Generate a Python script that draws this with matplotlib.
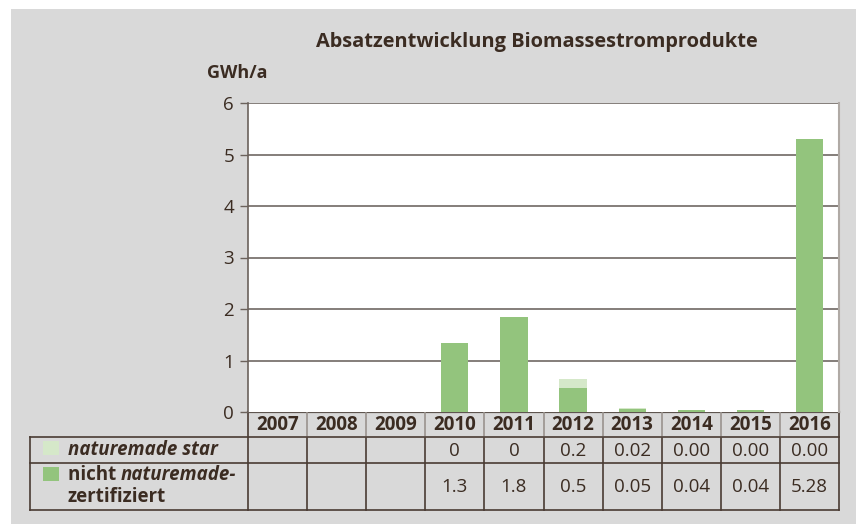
import matplotlib
matplotlib.use("Agg")
import matplotlib.pyplot as plt
from matplotlib.patches import Rectangle
from matplotlib.lines import Line2D

years = ["2007", "2008", "2009", "2010", "2011", "2012", "2013", "2014", "2015", "2016"]
nicht = [0, 0, 0, 1.34, 1.85, 0.47, 0.05, 0.04, 0.04, 5.30]
star = [0, 0, 0, 0, 0, 0.17, 0.02, 0.0, 0.0, 0.0]
star_labels = ["", "", "", "0", "0", "0.2", "0.02", "0.00", "0.00", "0.00"]
nicht_labels = ["", "", "", "1.3", "1.8", "0.5", "0.05", "0.04", "0.04", "5.28"]
yticks = [0, 1, 2, 3, 4, 5, 6]

W, H = 856, 524
TXT = "#3b2c22"
DARK = "#93c47d"
LIGHT = "#d5e8c9"
BG = "#d9d9d9"
FS = 13.5
plt.rcParams['font.family'] = ['Open Sans', 'DejaVu Sans']

fig = plt.figure(figsize=(W/100, H/100), dpi=100)
fig.patch.set_facecolor("white")

def fx(px): return px / W
def fy(py): return 1 - py / H

# grey background
fig.patches.append(Rectangle((fx(11), 0), 1 - fx(11), fy(9), transform=fig.transFigure,
                             facecolor=BG, edgecolor="none", zorder=-10))

L, R, T, B = 248, 839, 103, 412
ax = fig.add_axes([fx(L), fy(B), fx(R) - fx(L), fy(T) - fy(B)], zorder=2)
ax.set_facecolor("white")
x = list(range(len(years)))
ax.bar(x, nicht, width=0.46, color=DARK, zorder=3)
ax.bar(x, star, bottom=nicht, width=0.46, color=LIGHT, zorder=3)
ax.set_xlim(-0.5, len(years) - 0.5)
ax.set_ylim(0, 6)
ax.set_yticks(yticks)
ax.set_yticklabels([str(v) for v in yticks], fontsize=13.5, color=TXT)
ax.tick_params(axis='y', length=6, width=1, color="#6b625c", pad=4)
ax.set_xticks([])
for v in yticks[1:]:
    ax.axhline(v, color="#6f6863", lw=1.2, zorder=1)
for s in ["top", "bottom"]:
    ax.spines[s].set_visible(False)
ax.spines["left"].set_color("#6b625c")
ax.spines["left"].set_linewidth(1.2)
ax.spines["right"].set_color("#b0aaa5")
ax.spines["right"].set_linewidth(1.5)

fig.text(fx(537), fy(42), "Absatzentwicklung Biomassestromprodukte", ha="center", va="center",
         fontsize=14.4, fontweight="bold", color=TXT)
fig.text(fx(207), fy(73), "GWh/a", ha="left", va="center", fontsize=13,
         fontweight="bold", color=TXT)

# table
colw = (R - L) / len(years)
r0, r1, r2, r3 = 412, 437, 463, 510
LX = 30
def hline(y, x0, x1, c, lw):
    fig.add_artist(Line2D([fx(x0), fx(x1)], [fy(y), fy(y)], color=c, lw=lw, transform=fig.transFigure))
def vline(xp, y0, y1, c, lw):
    fig.add_artist(Line2D([fx(xp), fx(xp)], [fy(y0), fy(y1)], color=c, lw=lw, transform=fig.transFigure))

LC = "#4a3b33"
hline(r0, L, R, "#5e554f", 1.6)
hline(r1, LX, R, LC, 1.2)
hline(r2, LX, R, LC, 1.2)
hline(r3, LX, R, LC, 1.2)
vline(LX, r1, r3, LC, 1.2)
vline(L, r0, r3, LC, 1.2)
vline(R, r0, r3, LC, 1.2)
for i in range(1, len(years)):
    xp = L + i * colw
    vline(xp, r0, r1, "#9a938e", 1.2)
    vline(xp, r1, r3, LC, 1.2)

for i, yr in enumerate(years):
    cx = L + (i + 0.5) * colw
    fig.text(fx(cx), fy((r0 + r1) / 2 + 1), yr, ha="center", va="center",
             fontsize=FS, fontweight="bold", color=TXT)
    fig.text(fx(cx), fy((r1 + r2) / 2 + 1), star_labels[i], ha="center", va="center",
             fontsize=FS, color=TXT)
    fig.text(fx(cx), fy((r2 + r3) / 2 + 1), nicht_labels[i], ha="center", va="center",
             fontsize=FS, color=TXT)

# legend squares and labels
fig.patches.append(Rectangle((fx(43), fy(455)), fx(16), fy(441) - fy(455), transform=fig.transFigure,
                             facecolor=LIGHT, edgecolor="none"))
fig.patches.append(Rectangle((fx(43), fy(481)), fx(16), fy(467) - fy(481), transform=fig.transFigure,
                             facecolor=DARK, edgecolor="none"))
fig.text(fx(68), fy(450), "naturemade star", ha="left", va="center", fontsize=FS,
         fontweight="bold", fontstyle="italic", color=TXT)
t1 = fig.text(fx(68), fy(475), "nicht ", ha="left", va="center", fontsize=FS,
              fontweight="bold", color=TXT)
fig.canvas.draw()
bb = t1.get_window_extent()
fig.text(bb.x1 / W, fy(475), "naturemade-", ha="left", va="center", fontsize=FS,
         fontweight="bold", fontstyle="italic", color=TXT)
fig.text(fx(68), fy(497), "zertifiziert", ha="left", va="center", fontsize=FS,
         fontweight="bold", color=TXT)

fig.savefig("out.png", dpi=100, facecolor=fig.get_facecolor())
